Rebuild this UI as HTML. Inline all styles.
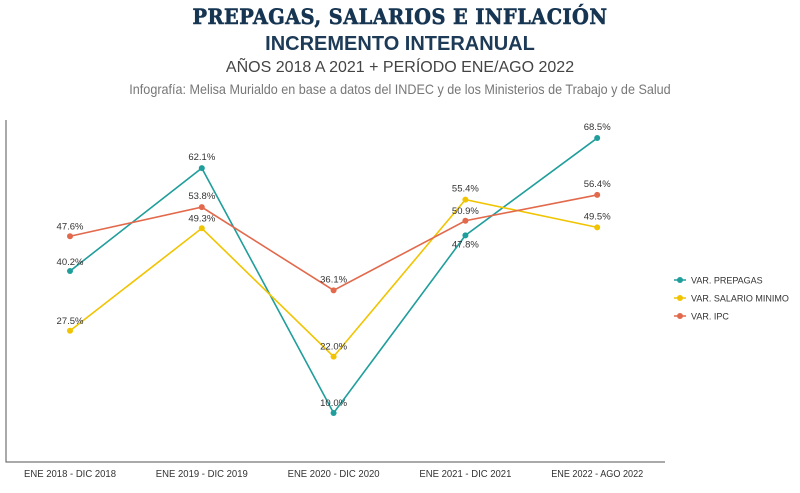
<!DOCTYPE html>
<html><head><meta charset="utf-8"><style>
body{margin:0;width:800px;height:493px;background:#fff;overflow:hidden;font-family:"Liberation Sans",sans-serif}
.t{position:absolute;left:0;width:800px;text-align:center;white-space:nowrap}
</style></head><body>
<div class="t" style="top:4px;font-family:'DejaVu Serif',serif;font-weight:900;font-size:21px;color:#163552;letter-spacing:0.5px;transform:scaleX(0.92);-webkit-text-stroke:0.6px #163552">PREPAGAS, SALARIOS E INFLACIÓN</div>
<div class="t" style="top:33px;font-weight:bold;font-size:20px;color:#1d3a57">INCREMENTO INTERANUAL</div>
<div class="t" style="top:59px;font-size:16px;color:#444">AÑOS 2018 A 2021 + PERÍODO ENE/AGO 2022</div>
<div class="t" style="top:81px;font-size:14px;color:#777;transform:scaleX(0.9)">Infografía: Melisa Murialdo en base a datos del INDEC y de los Ministerios de Trabajo y de Salud</div>
<svg id="c" width="800" height="493" style="position:absolute;left:0;top:0"></svg>
<script>
const categories=["ENE 2018 - DIC 2018","ENE 2019 - DIC 2019","ENE 2020 - DIC 2020","ENE 2021 - DIC 2021","ENE 2022 - AGO 2022"];
const prepagas=[40.2,62.1,10.0,47.8,68.5];
const salario=[27.5,49.3,22.0,55.4,49.5];
const ipc=[47.6,53.8,36.1,50.9,56.4];
const seriesNames=["VAR. PREPAGAS","VAR. SALARIO MINIMO","VAR. IPC"];
const svg=document.getElementById('c');
const NS='http://www.w3.org/2000/svg';
function x(i){return 70+i*131.8;}
function y(v){return 460-v*4.7;}
function mk(t,a){const e=document.createElementNS(NS,t);for(const k in a)e.setAttribute(k,a[k]);svg.appendChild(e);return e;}
let ax=mk('path',{d:'M6,120 V462 H665',stroke:'#555',fill:'none','stroke-width':1});


categories.forEach((c,i)=>{const t=mk('text',{x:x(i),y:477,'text-anchor':'middle','font-size':10,fill:'#333',textLength:92,lengthAdjust:'spacingAndGlyphs'});t.textContent=c;

});
const series=[[prepagas,'#1f9e9c'],[salario,'#f0c400'],[ipc,'#e2694b']];
const offs=[[-6,-8,-7,12,-8],[-7,-7,-7,-8,-8],[-7,-8,-8,-7,-8]];
series.forEach(([d,col],s)=>{
  const p=mk('polyline',{points:d.map((v,i)=>x(i)+','+y(v)).join(' '),fill:'none',stroke:col,'stroke-width':1.6});
  
  
  d.forEach((v,i)=>{
    const c=mk('circle',{cx:x(i),cy:y(v),r:3,fill:col});
    
    
    const t=mk('text',{x:x(i),y:y(v)+offs[s][i],'text-anchor':'middle','font-size':9.5,fill:'#333'});
    t.textContent=v.toFixed(1)+'%';
    
    
  });
});
seriesNames.forEach((n,s)=>{
  const yy=280+s*18;
  const l=mk('line',{x1:674,x2:686,y1:yy,y2:yy,stroke:series[s][1],'stroke-width':1.5});
  
  
  const c=mk('circle',{cx:680,cy:yy,r:3,fill:series[s][1]});
  
  
  const t=mk('text',{x:691,y:yy+3.5,'font-size':9,fill:'#333'});t.textContent=n;
  
  
});
</script>
</body></html>
